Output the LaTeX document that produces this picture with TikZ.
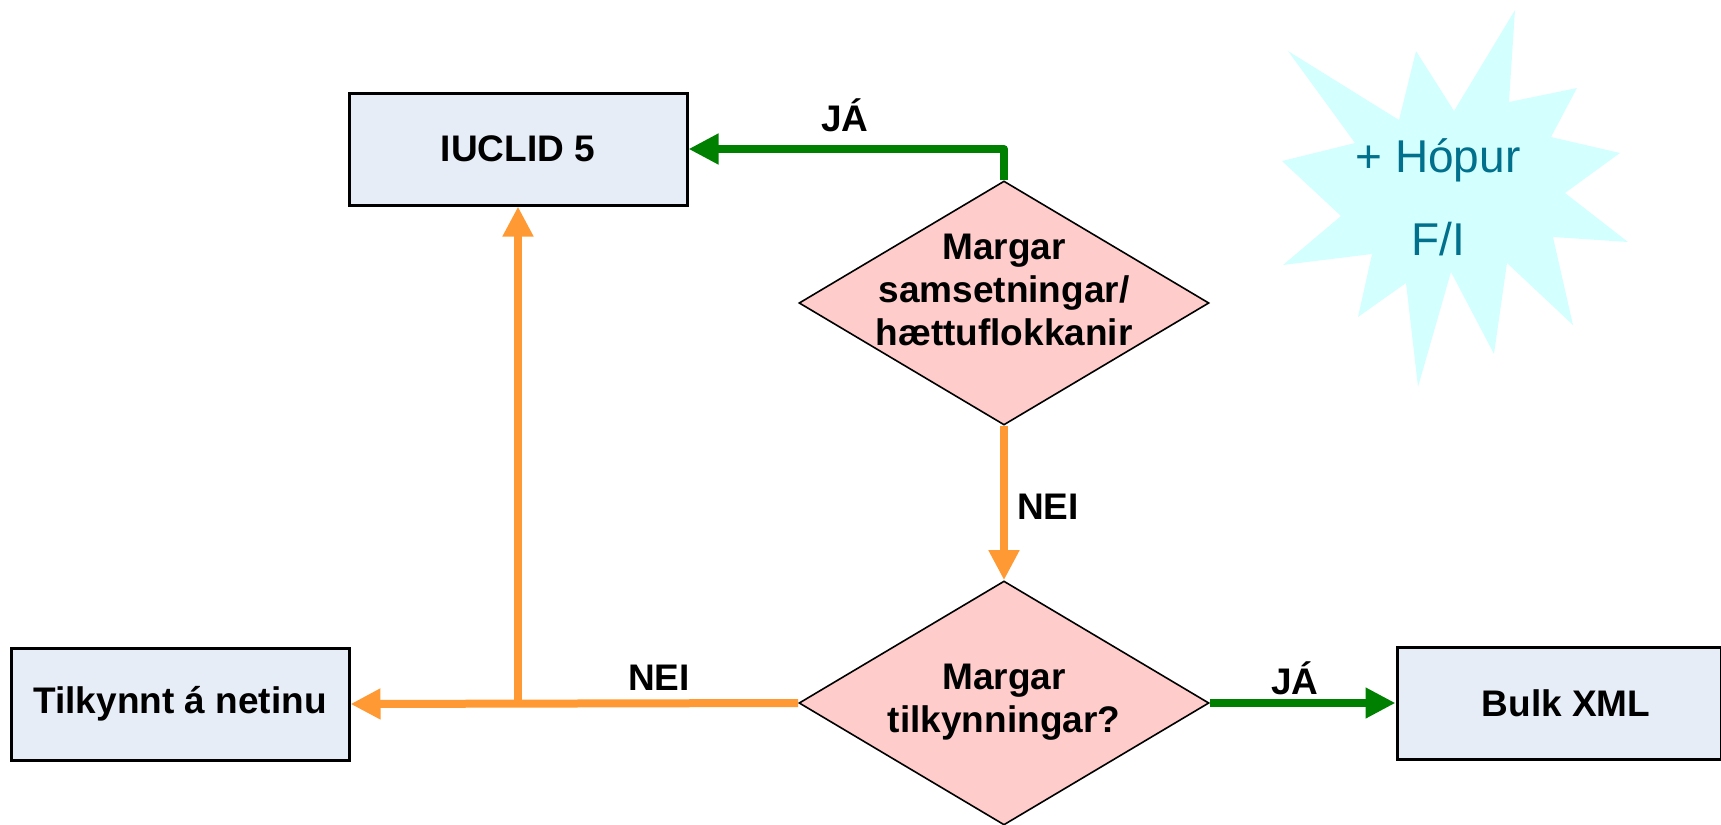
\documentclass[tikz,border=0pt]{standalone}
\usepackage{fontspec}
\setmainfont{Liberation Sans}
\usetikzlibrary{shapes.geometric,arrows.meta}

\definecolor{boxfill}{RGB}{230,237,247}
\definecolor{diafill}{RGB}{255,204,204}
\definecolor{yesgreen}{RGB}{0,128,0}
\definecolor{noorange}{RGB}{255,153,51}
\definecolor{starfill}{RGB}{212,255,255}
\definecolor{startext}{RGB}{0,112,140}

\tikzset{
    stage/.style={draw=black, line width=1.5pt, fill=boxfill, minimum width=169pt,
        minimum height=56pt, inner sep=0pt},
    question/.style={diamond, draw=black, line width=0.8pt, fill=diafill,
        minimum width=205pt, minimum height=122pt, inner sep=0pt},
    lbl/.style={font=\fontsize{18.5}{21.5}\selectfont\bfseries, align=center},
    yes/.style={yesgreen, line width=4pt, line join=round,
        -{Triangle[length=15pt, width=14.5pt]}},
    no/.style={noorange, line width=4pt, line join=round,
        -{Triangle[length=15pt, width=14.5pt]}}
}

\begin{document}
\begin{tikzpicture}[x=0.5pt, y=-0.5pt]
    \useasboundingbox (0, 0) rectangle (1721, 825);

    % boxes
    \node[stage] (iuclid) at (518, 149) {};
    \node[lbl] (iuclidt) at (iuclid) {IUCLID 5};
    \node[stage] (web) at (180, 704) {};
    \node[lbl] (webt) at (web) {Tilkynnt á netinu};
    \node[stage, minimum width=162pt] (bulk) at (1559, 703) {};
    \node[lbl] (bulkt) at (1566, 703) {Bulk XML};

    % questions
    \node[question] (many) at (1004, 303) {};
    \node[lbl] (manyt) at (1004, 290) {Margar\\samsetningar/\\hættuflokkanir};
    \node[question] (notif) at (1004, 703) {};
    \node[lbl] (notift) at (1004, 702) {Margar\\tilkynningar?};

    % connectors
    \draw[yes] (many.north) |- (iuclid.east);
    \draw[no] (many.south) -- (notif.north);
    \draw[no] (notif.west) -- (web.east);
    \coordinate (split) at (iuclid.south |- notif.west);
    \draw[no] (split) -- (iuclid.south);
    \draw[yes] (notif.east) -- (bulk.west);

    \node[lbl] (ja1) at (845, 115) {JÁ};
    \node[lbl] (nei1) at (1048, 507) {NEI};
    \node[lbl] (nei2) at (659, 678) {NEI};
    \node[lbl] (ja2) at (1295, 678) {JÁ};

    % burst
    \fill[starfill] (1288, 51) -- (1399, 120) -- (1416, 51) -- (1454, 111)
        -- (1515, 10) -- (1509, 102) -- (1577, 88) -- (1551, 137)
        -- (1620, 153) -- (1565, 193) -- (1628, 242) -- (1553, 237)
        -- (1573, 325) -- (1507, 263) -- (1494, 354) -- (1451, 272)
        -- (1418, 387) -- (1406, 283) -- (1358, 317) -- (1372, 254)
        -- (1283, 265) -- (1341, 216) -- (1282, 161) -- (1355, 143) -- cycle;
    \node[font=\fontsize{23}{41.5}\selectfont, text=startext, align=center] (group)
        at (1438, 197) {+ Hópur\\F/I};
\end{tikzpicture}
\end{document}
